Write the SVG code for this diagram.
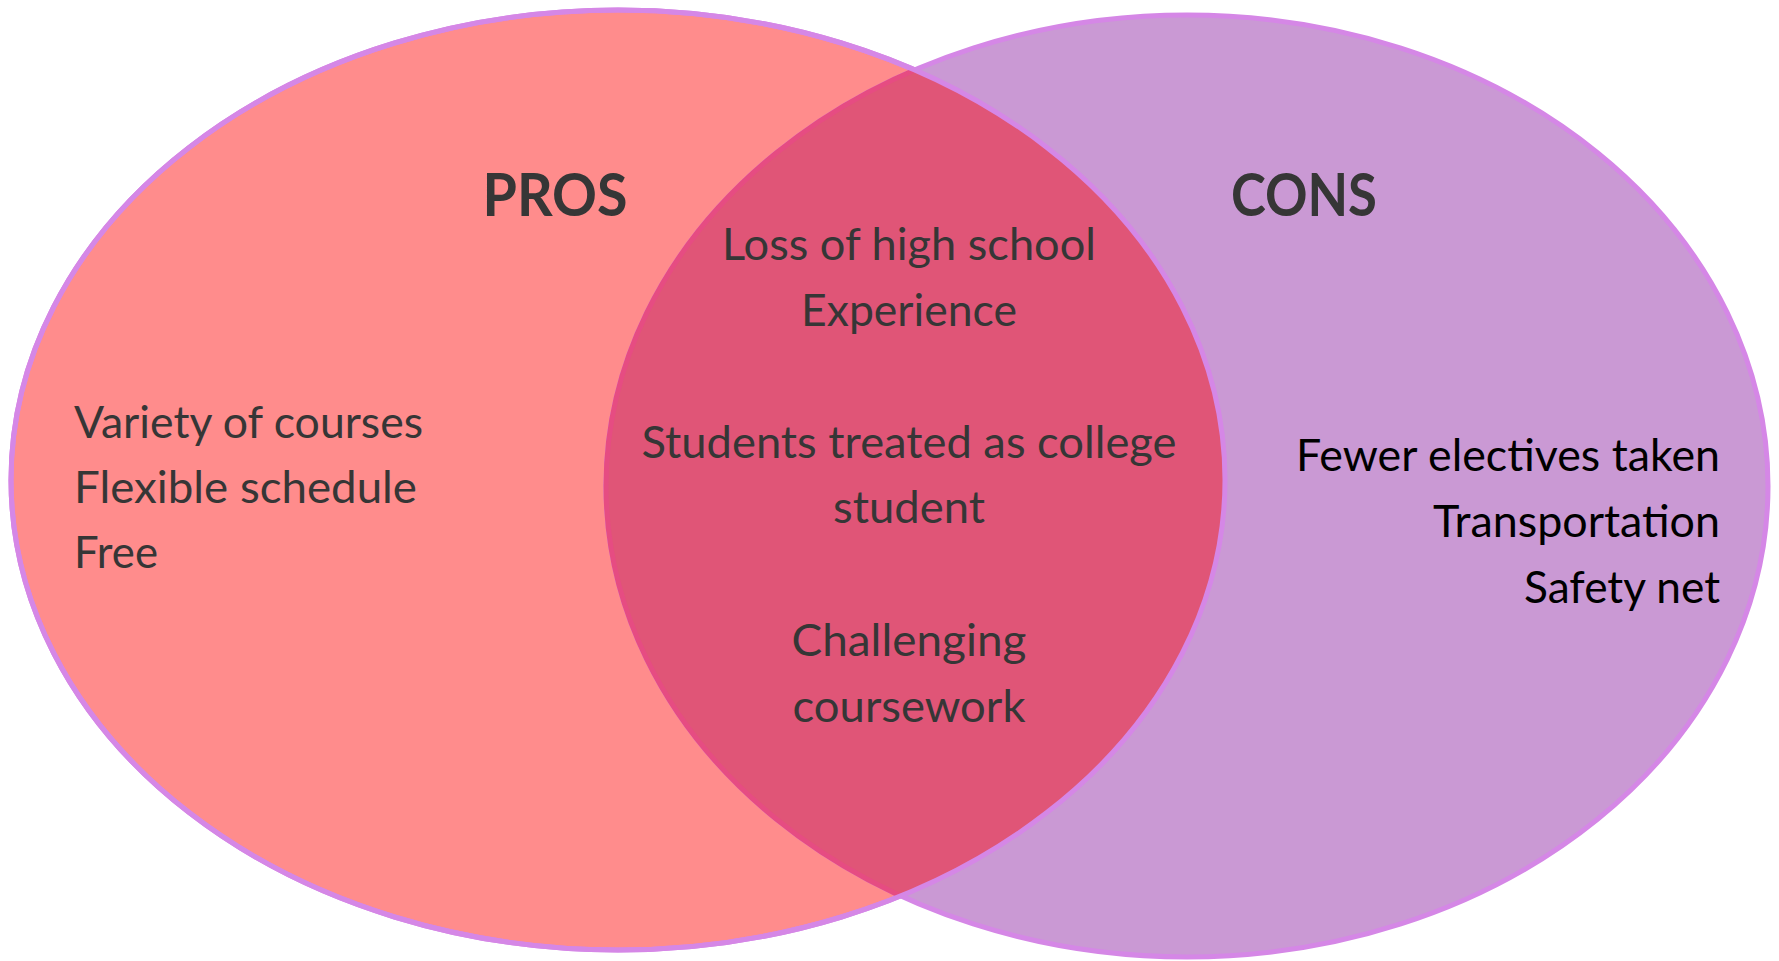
<svg xmlns="http://www.w3.org/2000/svg" width="1779" height="961" viewBox="0 0 1779 961">
<style>
.t{font-family:Lato,"Source Sans Pro","Open Sans",sans-serif;font-size:44px;fill:#363636}
.h{font-family:Lato,"Open Sans",sans-serif;font-size:60px;font-weight:bold;fill:#363636}
.k{fill:#000}
</style>
<defs>
<clipPath id="clipL"><ellipse cx="618" cy="480" rx="607" ry="470"/></clipPath>
</defs>
<g id="pros-set">
<ellipse cx="618" cy="480" rx="607" ry="470" fill="#FF8C8C" stroke="#D587E6" stroke-width="5"/>
</g>
<g id="cons-set">
<ellipse cx="1187" cy="486" rx="581" ry="471" fill="#CA99D4" stroke="#D587E6" stroke-width="5"/>
</g>
<g id="overlap">
<ellipse clip-path="url(#clipL)" cx="1187" cy="486" rx="581" ry="471" fill="#E05577" stroke="#E64C82" stroke-width="5"/>
<ellipse cx="618" cy="480" rx="607" ry="470" fill="none" stroke="#D587E6" stroke-width="5"/>
</g>
<g id="labels">
<text class="h" x="555" y="216" text-anchor="middle" textLength="145" lengthAdjust="spacingAndGlyphs">PROS</text>
<text class="h" x="1304" y="216" text-anchor="middle" textLength="146" lengthAdjust="spacingAndGlyphs">CONS</text>
</g>
<g id="pros-items">
<text class="t" x="74" y="438" textLength="349" lengthAdjust="spacingAndGlyphs">Variety of courses</text>
<text class="t" x="74" y="503" textLength="343" lengthAdjust="spacingAndGlyphs">Flexible schedule</text>
<text class="t" x="74" y="568" textLength="84" lengthAdjust="spacingAndGlyphs">Free</text>
</g>
<g id="overlap-items">
<text class="t" x="909" y="260" text-anchor="middle" textLength="374" lengthAdjust="spacingAndGlyphs">Loss of high school</text>
<text class="t" x="909" y="326" text-anchor="middle" textLength="216" lengthAdjust="spacingAndGlyphs">Experience</text>
<text class="t" x="909" y="458" text-anchor="middle" textLength="535" lengthAdjust="spacingAndGlyphs">Students treated as college</text>
<text class="t" x="909" y="523" text-anchor="middle" textLength="152" lengthAdjust="spacingAndGlyphs">student</text>
<text class="t" x="909" y="656" text-anchor="middle" textLength="235" lengthAdjust="spacingAndGlyphs">Challenging</text>
<text class="t" x="909" y="722" text-anchor="middle" textLength="233" lengthAdjust="spacingAndGlyphs">coursework</text>
</g>
<g id="cons-items">
<text class="t k" x="1720" y="471" text-anchor="end" textLength="424" lengthAdjust="spacingAndGlyphs">Fewer electives taken</text>
<text class="t k" x="1720" y="537" text-anchor="end" textLength="287" lengthAdjust="spacingAndGlyphs">Transportation</text>
<text class="t k" x="1720" y="603" text-anchor="end" textLength="196" lengthAdjust="spacingAndGlyphs">Safety net</text>
</g>
</svg>
